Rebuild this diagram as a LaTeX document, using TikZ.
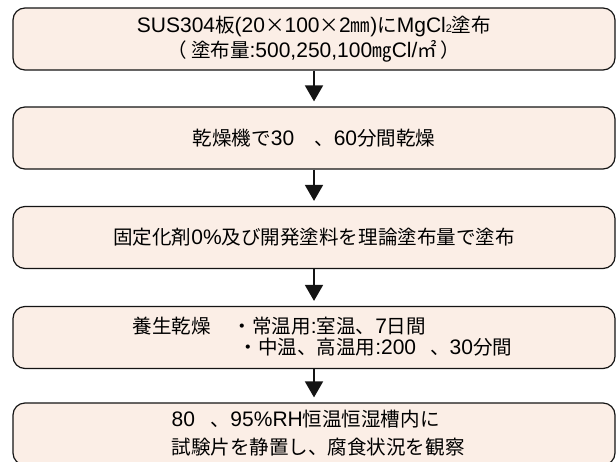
\documentclass[tikz,border=0pt]{standalone}
\usepackage{fontspec}
\setmainfont{Liberation Sans}
\newfontfamily\jp{Noto Sans CJK JP}[Scale=0.93]
\usetikzlibrary{arrows.meta}
\newcommand\J[1]{{\jp #1}}
\newcommand\fs{\fontsize{21}{25}\selectfont}
\definecolor{boxfill}{RGB}{251,238,230}
\definecolor{edge}{RGB}{20,20,20}
\begin{document}
\begin{tikzpicture}[x=1pt,y=-1pt,
  box/.style={draw=edge, line width=1.2pt, fill=boxfill, rounded corners=12pt,
    minimum width=602pt, minimum height=62pt, inner sep=0pt, align=center, font=\fs},
  txt/.style={inner sep=0pt, align=left, font=\fs, anchor=west},
  arr/.style={draw=edge, line width=1.8pt, -{Triangle[length=16pt,width=18pt]}, shorten >=5pt}]
\useasboundingbox (0,0) rectangle (616,461);
\clip (0,0) rectangle (616,461);
\node[box] (b1) at (314,39) {SUS304\J{板}(20\J{×}100\J{×}2\J{㎜})\J{に}MgCl\raisebox{-0.5pt}{\fontsize{11}{11}\selectfont 2}\J{塗布}\\[0pt]
  \J{（}\hspace{4pt}\J{塗布量}:500,250,100\J{㎎}Cl/\J{㎡}\hspace{4pt}\J{）}};
\node[box] (b2) at (314,138) {\J{乾燥機で}30\hspace{20pt}\J{、}60\J{分間乾燥}};
\node[box] (b3) at (314,237.5) {\J{固定化剤}0\%\J{及び開発塗料を理論塗布量で塗布}};
\node[box] (b4) at (314,337.5) {};
\node[box] (b5) at (314,434) {};
\node[txt] (t4) at ([xshift=120pt,yshift=1pt]b4.west) {\J{養生乾燥}\hspace{22pt}\J{・常温用}:\J{室温、}7\J{日間}\\[-4pt]
  \hspace{106pt}\J{・中温、高温用}:200\hspace{14pt}\J{、}30\J{分間}};
\node[txt] (t5) at ([xshift=159pt,yshift=1pt]b5.west) {80\hspace{16pt}\J{、}95\%RH\J{恒温恒湿槽内に}\\[3pt]
  \J{試験片を静置し、腐食状況を観察}};
\draw[arr] (b1.south) -- (b2.north);
\draw[arr] (b2.south) -- (b3.north);
\draw[arr] (b3.south) -- (b4.north);
\draw[arr] (b4.south) -- (b5.north);
\end{tikzpicture}
\end{document}
